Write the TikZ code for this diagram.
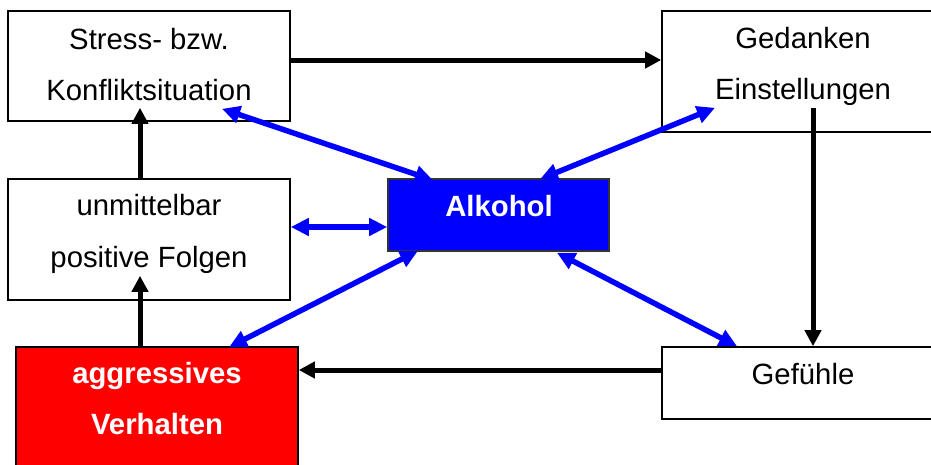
\documentclass[tikz,border=0pt]{standalone}
\usepackage{fontspec}
\setmainfont{Liberation Sans}
\usetikzlibrary{arrows.meta}
\definecolor{pblue}{RGB}{0,0,255}
\definecolor{pred}{RGB}{255,0,0}
\tikzset{
  box/.style={draw=black, line width=1.6pt, fill=white, inner sep=0pt},
  txt/.style={anchor=base, inner sep=0pt, font=\fontsize{29.3}{30}\selectfont},
  btxt/.style={txt, font=\fontsize{29.3}{30}\selectfont\bfseries, text=white},
  blk/.style={line width=5pt, draw=black, -{Triangle[length=16pt,width=16pt]}},
  blu/.style={line width=5.5pt, draw=pblue, {Triangle[length=18pt,width=17pt]}-{Triangle[length=18pt,width=17pt]}},
}
\begin{document}
\begin{tikzpicture}[x=1pt,y=-1pt]
\useasboundingbox (0,0) rectangle (931,464);
% boxes
\node[box, minimum width=282pt, minimum height=110pt] (stress) at (149,66) {};
\node[box, minimum width=282pt, minimum height=121pt] (ged) at (803,71.5) {};
\node[box, minimum width=282pt, minimum height=121pt] (folgen) at (149,239.5) {};
\node[box, fill=pblue, draw=black!80, minimum width=221pt, minimum height=72pt] (alk) at (498.5,215) {};
\node[box, fill=pred, minimum width=282pt, minimum height=128pt] (aggr) at (157,411) {};
\node[box, minimum width=282pt, minimum height=72pt] (gef) at (803,383) {};
% texts
\node[txt] (t1) at (149,49) {Stress- bzw.};
\node[txt] (t2) at (149,100) {Konfliktsituation};
\node[txt] (t3) at (803,48) {Gedanken};
\node[txt] (t4) at (803,99) {Einstellungen};
\node[txt] (t5) at (149,215) {unmittelbar};
\node[txt] (t6) at (149,267) {positive Folgen};
\node[btxt] (t7) at (499,216) {Alkohol};
\node[btxt] (t8) at (157,383) {aggressives};
\node[btxt] (t9) at (157,434) {Verhalten};
\node[txt] (t10) at (803,384) {Gefühle};
% black arrows
\draw[blk] ([yshift=6pt]stress.east) -- ([yshift=11.5pt]ged.west);
\draw[blk] ([xshift=-9pt]folgen.north) -- ([xshift=-9pt,yshift=14pt]stress.south);
\draw[blk] ([xshift=-17pt]aggr.north) -- ([xshift=-9pt,yshift=25pt]folgen.south);
\draw[blk] ([xshift=10pt,yshift=25pt]ged.south) -- ([xshift=10pt]gef.north);
\draw[blk] ([yshift=13pt]gef.west) -- ([yshift=41pt]aggr.east);
% blue arrows
\draw[blu] ([xshift=73pt,yshift=13pt]stress.south) -- ([xshift=-65.5pt,yshift=-2pt]alk.north);
\draw[blu] ([xshift=-88pt,yshift=25pt]ged.south) -- ([xshift=41.5pt,yshift=-1pt]alk.north);
\draw[blu] ([yshift=12.5pt]folgen.east) -- ([yshift=-12pt]alk.west);
\draw[blu] ([xshift=-80.5pt,yshift=1pt]alk.south) -- ([xshift=72pt,yshift=-1pt]aggr.north);
\draw[blu] ([xshift=58.5pt,yshift=-1pt]alk.south) -- ([xshift=-66pt]gef.north);
\end{tikzpicture}
\end{document}
